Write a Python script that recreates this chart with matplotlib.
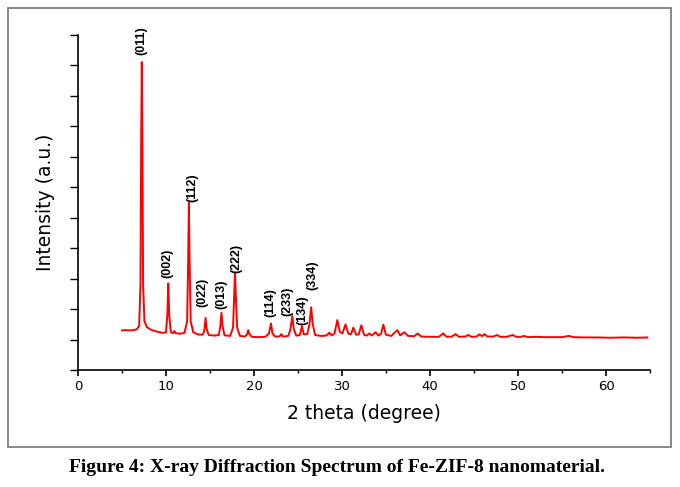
import numpy as np
import matplotlib
matplotlib.use("Agg")
import matplotlib.pyplot as plt
from matplotlib.patches import Rectangle
from matplotlib.ticker import MultipleLocator, NullFormatter

# xrd pattern (2 theta in degree, intensity in a.u.)
two_theta = [
    5.0, 5.4, 5.8, 6.3, 6.7, 6.95, 7.10, 7.18, 7.25, 7.32, 7.40, 7.55, 7.85, 8.4, 9.0, 9.6,
    10.0, 10.15, 10.26, 10.37, 10.55, 10.8, 10.95, 11.1, 11.6, 12.1, 12.4, 12.52, 12.6, 12.68,
    12.8, 13.1, 13.6, 14.2, 14.38, 14.5, 14.62, 14.85, 15.5, 16.0, 16.18, 16.3, 16.42, 16.65,
    17.3, 17.62, 17.74, 17.84, 17.94, 18.08, 18.4, 19.0, 19.22, 19.35, 19.48, 19.75, 20.5,
    21.3, 21.7, 21.93, 22.1, 22.4, 22.9, 23.1, 23.3, 23.9, 24.15, 24.35, 24.52, 24.8, 25.2,
    25.45, 25.65, 26.05, 26.3, 26.5, 26.68, 26.95, 27.6, 28.2, 28.56, 28.85, 29.15, 29.47,
    29.75, 30.05, 30.4, 30.7, 31.0, 31.3, 31.6, 31.9, 32.2, 32.5, 32.8, 33.1, 33.4, 33.8,
    34.15, 34.45, 34.7, 34.98, 35.6, 36.3, 36.6, 37.1, 37.5, 38.2, 38.6, 39.0, 40.0, 41.0,
    41.5, 41.9, 42.5, 42.9, 43.3, 44.0, 44.35, 44.7, 45.3, 45.6, 45.9, 46.2, 46.5, 47.2,
    47.6, 48.0, 48.7, 49.4, 49.8, 50.3, 50.7, 51.1, 52.0, 53.0, 54.0, 55.0, 55.8, 56.3,
    57.5, 59.0, 60.5, 62.0, 63.5, 64.7,
]
intensity = [
    1.30, 1.31, 1.30, 1.31, 1.34, 1.45, 2.8, 7.5, 10.11, 7.5, 2.8, 1.6, 1.40, 1.31, 1.26, 1.22,
    1.24, 1.8, 2.84, 1.8, 1.25, 1.21, 1.28, 1.21, 1.19, 1.22, 1.6, 3.6, 5.49, 3.6,
    1.6, 1.24, 1.17, 1.16, 1.35, 1.71, 1.35, 1.15, 1.13, 1.15, 1.45, 1.88, 1.45, 1.14,
    1.12, 1.4, 2.4, 3.20, 2.4, 1.4, 1.12, 1.10, 1.18, 1.31, 1.18, 1.09, 1.08,
    1.09, 1.2, 1.53, 1.2, 1.10, 1.10, 1.18, 1.10, 1.12, 1.35, 1.77, 1.35, 1.13, 1.15,
    1.44, 1.17, 1.18, 1.5, 2.06, 1.5, 1.15, 1.12, 1.13, 1.22, 1.14, 1.2, 1.64,
    1.25, 1.2, 1.50, 1.2, 1.17, 1.39, 1.16, 1.17, 1.47, 1.16, 1.13, 1.20, 1.13, 1.24,
    1.13, 1.2, 1.49, 1.16, 1.12, 1.31, 1.14, 1.24, 1.12, 1.11, 1.20, 1.10, 1.09, 1.09,
    1.20, 1.09, 1.10, 1.18, 1.09, 1.10, 1.15, 1.09, 1.10, 1.17, 1.11, 1.18, 1.10, 1.10,
    1.15, 1.09, 1.09, 1.15, 1.09, 1.09, 1.12, 1.08, 1.09, 1.08, 1.08, 1.08, 1.12, 1.08,
    1.07, 1.07, 1.06, 1.07, 1.06, 1.07,
]

# miller index labels and where their lower end sits
hkl_labels = ["(011)", "(002)", "(112)", "(022)", "(013)", "(222)", "(114)", "(233)", "(134)", "(334)"]
hkl_x = [7.24, 10.1, 13.0, 14.1, 16.25, 18.0, 21.9, 23.8, 25.45, 26.6]
hkl_y = [10.33, 3.02, 5.52, 2.08, 2.0, 3.2, 1.75, 1.79, 1.48, 2.62]

x_ticks = [0, 10, 20, 30, 40, 50, 60]


def plot_xrd():
    fig = plt.figure(figsize=(6.8, 4.87), dpi=100)
    fig.set_facecolor("white")

    # gray frame around the chart
    fig.patches.append(Rectangle((0.0122, 0.0815), 0.9746, 0.9014, transform=fig.transFigure,
                                 fill=False, edgecolor="#7f7f7f", linewidth=1.3))

    ax = fig.add_axes([0.1147, 0.2402, 0.8412, 0.6879])
    ax.plot(two_theta, intensity, color="red", linewidth=1.4)

    ax.set_xlim(0, 65)
    ax.set_ylim(0, 11)

    # only left and bottom axis lines
    ax.spines["top"].set_visible(False)
    ax.spines["right"].set_visible(False)
    for side in ["left", "bottom"]:
        ax.spines[side].set_linewidth(1.2)

    ax.set_xticks(x_ticks)
    ax.xaxis.set_minor_locator(MultipleLocator(5))
    ax.yaxis.set_major_locator(MultipleLocator(1))
    ax.yaxis.set_major_formatter(NullFormatter())
    ax.tick_params(axis="x", which="major", length=4, width=1.2, labelsize=9.5, pad=3)
    ax.tick_params(axis="x", which="minor", length=2.5, width=1.0)
    ax.tick_params(axis="y", which="major", length=6, width=1.0)

    ax.set_xlabel("2 theta (degree)", fontsize=13.5, labelpad=8)
    ax.set_ylabel("Intensity (a.u.)", fontsize=13.5, labelpad=7)

    for label, x, y in zip(hkl_labels, hkl_x, hkl_y):
        ax.text(x, y, label, rotation=90, ha="center", va="bottom",
                fontsize=9, fontweight="bold", family="Liberation Sans")

    fig.text(0.495, 0.041, "Figure 4: X-ray Diffraction Spectrum of Fe-ZIF-8 nanomaterial.",
             ha="center", va="center", fontsize=14, fontweight="bold", family="Liberation Serif")

    fig.savefig("out.png", dpi=100, facecolor="white")


if __name__ == "__main__":
    plot_xrd()
